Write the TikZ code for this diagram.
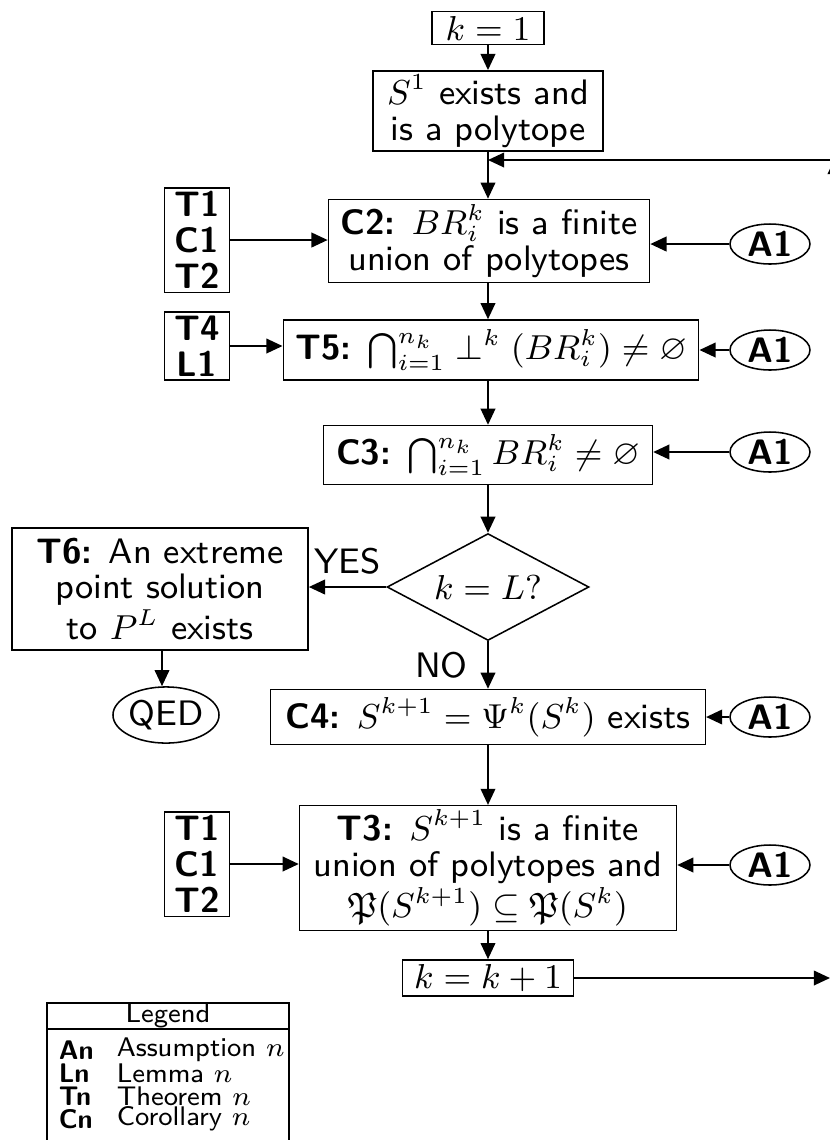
\documentclass[tikz,border=0pt]{standalone}
\usepackage{amssymb}
\usetikzlibrary{shapes.geometric,arrows.meta}
\renewcommand{\familydefault}{\sfdefault}
\tikzset{
  every node/.style={font=\fontsize{9.2}{9.3}\selectfont, inner sep=1pt},
  box/.style={draw, line width=0.4pt, align=center},
  oval/.style={draw, ellipse, line width=0.4pt, inner sep=0pt},
  arr/.style={line width=0.5pt, -{Triangle[length=4.2pt,width=3.8pt]}},
  lg/.style={font=\fontsize{7}{6.6}\selectfont, inner sep=0pt},
}
\begin{document}
\begin{tikzpicture}[x=0.26pt,y=-0.26pt]
\useasboundingbox (0,0) rectangle (830,1140);
\clip (0,0) rectangle (830,1140);
% main column
\node[box, minimum width=29.2pt, minimum height=8.6pt] (k1) at (488,28) {$k=1$};
\node[box, minimum width=59.8pt, minimum height=20.3pt] (S1) at (488,111) {$S^1$ exists and\\is a polytope};
\coordinate (junc) at (488,160);
\node[box, minimum width=83.5pt, minimum height=21.6pt] (C2) at (489,241) {\textbf{C2:} $BR_i^k$ is a finite\\union of polytopes};
\node[box, minimum width=108pt, minimum height=15.6pt] (T5) at (491,350) {\textbf{T5:} $\bigcap_{i=1}^{n_k}\perp^k(BR_i^k)\neq\varnothing$};
\node[box, minimum width=85.5pt, minimum height=15.3pt] (C3) at (488,455) {\textbf{C3:} $\bigcap_{i=1}^{n_k}BR_i^k\neq\varnothing$};
\node[draw, diamond, aspect=1.9, line width=0.4pt, inner sep=0pt, minimum width=52.5pt, minimum height=27.8pt] (D) at (488,587) {$k=L?$};
\node[box, minimum width=77pt, minimum height=31.7pt] (T6) at (160,589) {\textbf{T6:} An extreme\\point solution\\to $P^L$ exists};
\node[oval, minimum width=27pt, minimum height=14.6pt] (QED) at (166,715) {QED};
\node[box, minimum width=113pt, minimum height=14.3pt] (C4) at (488,717) {\textbf{C4:} $S^{k+1}=\Psi^k(S^k)$ exists};
\node[box, minimum width=98pt, minimum height=29.1pt] (T3) at (488,868) {\textbf{T3:} $S^{k+1}$ is a finite\\union of polytopes and\\$\mathfrak{P}(S^{k+1})\subseteq\mathfrak{P}(S^k)$};
\node[box, minimum width=44.5pt, minimum height=9.4pt] (kk) at (488,978) {$k=k+1$};
% left boxes
\node[box, minimum width=16.9pt, minimum height=27pt] (L1) at (197,240) {\textbf{T1}\\\textbf{C1}\\\textbf{T2}};
\node[box, minimum width=16.9pt, minimum height=17.7pt] (L2) at (197,346) {\textbf{T4}\\\textbf{L1}};
\node[box, minimum width=16.9pt, minimum height=27pt] (L3) at (197,864) {\textbf{T1}\\\textbf{C1}\\\textbf{T2}};
% right ovals
\node[oval, minimum width=20.8pt, minimum height=10.4pt] (A1) at (770,244) {\textbf{A1}};
\node[oval, minimum width=20.8pt, minimum height=10.4pt] (A2) at (770,350) {\textbf{A1}};
\node[oval, minimum width=20.8pt, minimum height=10.4pt] (A3) at (770,452) {\textbf{A1}};
\node[oval, minimum width=20.8pt, minimum height=10.4pt] (A4) at (770,717) {\textbf{A1}};
\node[oval, minimum width=20.8pt, minimum height=10.4pt] (A5) at (770,865) {\textbf{A1}};
% loop coordinates
\coordinate (loopR) at (830,978);
\coordinate (loopB) at (835,600);
\coordinate (loopT) at (835,158);
\coordinate (loopTL) at (840,160);
% connectors
\draw[arr] (k1) -- (S1);
\draw[arr] (S1.south -| junc) -- (C2.north -| junc);
\draw[arr] (C2.south -| junc) -- (T5.north -| junc);
\draw[arr] (T5.south -| junc) -- (C3.north -| junc);
\draw[arr] (C3.south) -- (D.north);
\draw[arr] (D.west) -- (D.west -| T6.east) node[midway, above=2pt] {YES};
\draw[arr] (D.south) -- (D.south |- C4.north) node[midway, left=4pt] {NO};
\draw[arr] (T6.south -| 162,0) -- (QED.north -| 162,0);
\draw[arr] (C4.south) -- (T3.north);
\draw[arr] (T3.south) -- (kk.north);
\draw[arr] (kk.east) -- (loopR);
\draw[arr] (loopB) -- (loopT);
\draw[arr] (loopTL) -- (junc);
\draw[arr] (L1.east) -- (L1.east -| C2.west);
\draw[arr] (L2.east) -- (L2.east -| T5.west);
\draw[arr] (L3.east) -- (L3.east -| T3.west);
\draw[arr] (A1.west) -- (A1.west -| C2.east);
\draw[arr] (A2.west) -- (A2.west -| T5.east);
\draw[arr] (A3.west) -- (A3.west -| C3.east);
\draw[arr] (A4.west) -- (A4.west -| C4.east);
\draw[arr] (A5.west) -- (A5.west -| T3.east);
% legend
\draw[line width=0.4pt] (47,1160) |- (289,1003) -- (289,1160);
\draw[line width=0.4pt] (47,1029) -- (289,1029);
\node[lg] (lgh) at (168,1016) {Legend};
\node[lg, anchor=west] (la1) at (58,1050) {\textbf{An}};
\node[lg, anchor=west] (la2) at (116,1050) {Assumption $n$};
\node[lg, anchor=west] (lb1) at (58,1073) {\textbf{Ln}};
\node[lg, anchor=west] (lb2) at (116,1073) {Lemma $n$};
\node[lg, anchor=west] (lc1) at (58,1096) {\textbf{Tn}};
\node[lg, anchor=west] (lc2) at (116,1096) {Theorem $n$};
\node[lg, anchor=west] (ld1) at (58,1119) {\textbf{Cn}};
\node[lg, anchor=west] (ld2) at (116,1119) {Corollary $n$};
\end{tikzpicture}
\end{document}
